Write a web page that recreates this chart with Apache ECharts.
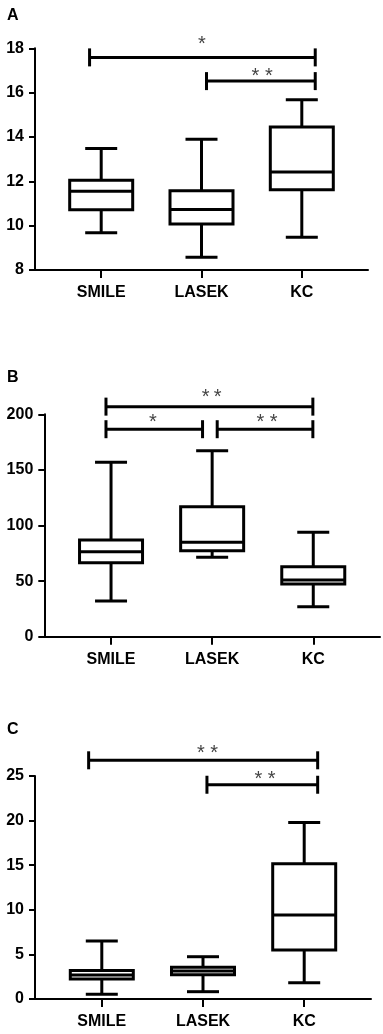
<!DOCTYPE html>
<html><head><meta charset="utf-8">
<script src="https://cdn.jsdelivr.net/npm/echarts@6/dist/echarts.min.js"></script>
<style>html,body{margin:0;padding:0;background:#fff}#c{width:383px;height:1034px}</style>
</head><body><div id="c"></div>
<script>
const categories = ['SMILE', 'LASEK', 'KC'];
const panelTitles = ['A', 'B', 'C'];

// [category index, min, Q1, median, Q3, max]
const boxesA = [[0, 9.68, 10.72, 11.55, 12.05, 13.48], [1, 8.57, 10.08, 10.73, 11.58, 13.9], [2, 9.48, 11.62, 12.42, 14.45, 15.68]];
const boxesB = [[0, 32.1, 66.6, 76.5, 87.0, 156.9], [1, 71.4, 77.4, 84.9, 116.9, 167.3], [2, 27.0, 47.4, 51.0, 63.0, 93.9]];
const boxesC = [[0, 0.52, 2.24, 2.69, 3.2, 6.5], [1, 0.82, 2.73, 3.14, 3.55, 4.74], [2, 1.83, 5.49, 9.42, 15.17, 19.8]];

// y-axis tick labels
const ticksA = [8, 10, 12, 14, 16, 18];
const ticksB = [0, 50, 100, 150, 200];
const ticksC = [0, 5, 10, 15, 20, 25];

// significance brackets: [x start, x end, y, star x, star y]
const bracketsA = [[-0.116, 2.134, 17.59, 1.005, 18.17], [1.05, 2.134, 16.52, 1.605, 16.74]];
const starsA = ['*', '* *'];
const bracketsB = [[-0.05, 1.996, 206.9, 0.995, 214.8], [-0.05, 0.905, 186.6, 0.414, 192.4], [1.05, 1.996, 186.6, 1.542, 192.4]];
const starsB = ['*\u2009*', '*', '* *'];
const bracketsC = [[-0.13, 2.133, 26.76, 1.045, 27.52], [1.039, 2.133, 24.02, 1.612, 24.6]];
const starsC = ['* *', '* *'];

const FONT = 'Liberation Sans';
const BOX_W = 63, CAP_W = 32, BR_CAP = 9;

function renderBox(params, api) {
  const x = api.value(0);
  const pMin = api.coord([x, api.value(1)]);
  const pQ1 = api.coord([x, api.value(2)]);
  const pMed = api.coord([x, api.value(3)]);
  const pQ3 = api.coord([x, api.value(4)]);
  const pMax = api.coord([x, api.value(5)]);
  const cx = pMed[0], hw = BOX_W / 2, cw = CAP_W / 2;
  const st = { stroke: '#000', lineWidth: 3 };
  return { type: 'group', children: [
    { type: 'line', shape: { x1: cx, y1: pQ3[1], x2: cx, y2: pMax[1] }, style: st },
    { type: 'line', shape: { x1: cx - cw, y1: pMax[1], x2: cx + cw, y2: pMax[1] }, style: st },
    { type: 'line', shape: { x1: cx, y1: pQ1[1], x2: cx, y2: pMin[1] }, style: st },
    { type: 'line', shape: { x1: cx - cw, y1: pMin[1], x2: cx + cw, y2: pMin[1] }, style: st },
    { type: 'rect', shape: { x: cx - hw, y: pQ3[1], width: 2 * hw, height: pQ1[1] - pQ3[1] }, style: { stroke: '#000', lineWidth: 3, fill: '#fff' } },
    { type: 'line', shape: { x1: cx - hw, y1: pMed[1], x2: cx + hw, y2: pMed[1] }, style: st }
  ]};
}

function bracketRenderer(labels) {
  return function (params, api) {
    const p1 = api.coord([api.value(0), api.value(2)]);
    const p2 = api.coord([api.value(1), api.value(2)]);
    const pl = api.coord([api.value(3), api.value(4)]);
    const st = { stroke: '#000', lineWidth: 3 };
    return { type: 'group', children: [
      { type: 'line', shape: { x1: p1[0], y1: p1[1], x2: p2[0], y2: p2[1] }, style: st },
      { type: 'line', shape: { x1: p1[0], y1: p1[1] - BR_CAP, x2: p1[0], y2: p1[1] + BR_CAP }, style: st },
      { type: 'line', shape: { x1: p2[0], y1: p2[1] - BR_CAP, x2: p2[0], y2: p2[1] + BR_CAP }, style: st },
      { type: 'text', x: pl[0], y: pl[1], style: { text: labels[params.dataIndex], fill: '#444', fontSize: 20, fontFamily: FONT, align: 'center', verticalAlign: 'middle' } }
    ]};
  };
}

const grids = [
  { left: 35, top: 48.3, width: 333, height: 221.7 },
  { left: 44.3, top: 414.3, width: 335.7, height: 222.4 },
  { left: 35, top: 776, width: 336, height: 223 }
];
const ticks = [ticksA, ticksB, ticksC];
const boxes = [boxesA, boxesB, boxesC];
const brackets = [bracketsA, bracketsB, bracketsC];
const stars = [starsA, starsB, starsC];
const titleTops = [8, 370, 722];

const labelStyle = { color: '#000', fontFamily: FONT, fontWeight: 'bold', fontSize: 16 };

const option = {
  animation: false,
  backgroundColor: '#fff',
  title: panelTitles.map((t, i) => ({ text: t, left: 7, top: titleTops[i], padding: 0, textStyle: { color: '#000', fontFamily: FONT, fontWeight: 'bold', fontSize: 16 } })),
  grid: grids,
  xAxis: grids.map((g, i) => ({
    type: 'value', gridIndex: i, min: -0.66, max: 2.66,
    axisLine: { show: true, onZero: false, lineStyle: { color: '#000', width: 2 } },
    axisTick: { show: true, customValues: [0, 1, 2], length: 8, lineStyle: { color: '#000', width: 2 } },
    axisLabel: Object.assign({ customValues: [0, 1, 2], margin: 15, formatter: v => categories[Math.round(v)] }, labelStyle),
    splitLine: { show: false }
  })),
  yAxis: grids.map((g, i) => {
    const t = ticks[i];
    return {
      type: 'value', gridIndex: i, min: t[0], max: t[t.length - 1], interval: t[1] - t[0],
      axisLine: { show: true, onZero: false, lineStyle: { color: '#000', width: 2 } },
      axisTick: { show: true, length: 6, lineStyle: { color: '#000', width: 2 } },
      axisLabel: Object.assign({ margin: 11 }, labelStyle),
      splitLine: { show: false }
    };
  }),
  series: [].concat(
    boxes.map((d, i) => ({ type: 'custom', xAxisIndex: i, yAxisIndex: i, data: d, renderItem: renderBox, encode: { x: 0, y: [1, 2, 3, 4, 5] }, clip: false })),
    brackets.map((d, i) => ({ type: 'custom', xAxisIndex: i, yAxisIndex: i, data: d, renderItem: bracketRenderer(stars[i]), encode: { x: [0, 1, 3], y: [2, 4] }, clip: false }))
  )
};

const chart = echarts.init(document.getElementById('c'), null, { renderer: 'canvas' });
chart.setOption(option);
</script>
</body></html>
